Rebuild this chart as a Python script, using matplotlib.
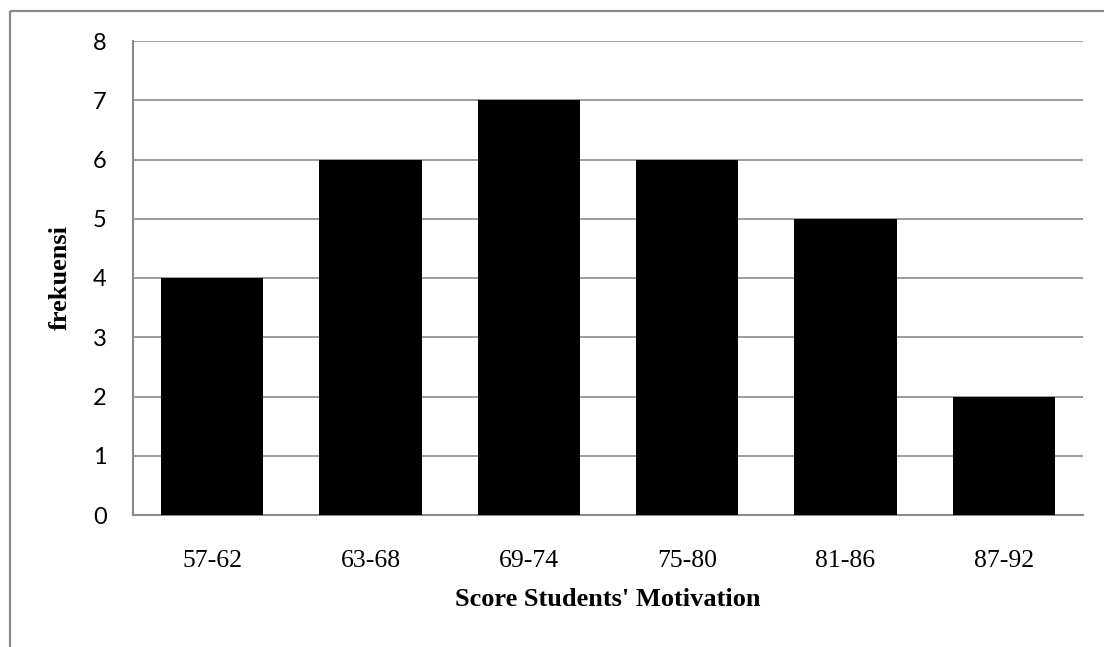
import matplotlib
matplotlib.use("Agg")
import matplotlib.pyplot as plt
from matplotlib.lines import Line2D

# Frequency distribution of motivation scores
categories = ["57-62", "63-68", "69-74", "75-80", "81-86", "87-92"]
frequencies = [4, 6, 7, 6, 5, 2]
y_ticks = [0, 1, 2, 3, 4, 5, 6, 7, 8]

W, H = 1104, 647
fig = plt.figure(figsize=(W / 100, H / 100), dpi=100)
fig.patch.set_facecolor("white")

grey = "#8a8a8a"

# outer frame (top and left edges)
fig.add_artist(Line2D([10 / W, 1.0], [1 - 11 / H, 1 - 11 / H], transform=fig.transFigure,
                      color=grey, lw=1.6, solid_capstyle="butt"))
fig.add_artist(Line2D([10 / W, 10 / W], [1 - 11 / H, 0.0], transform=fig.transFigure,
                      color=grey, lw=1.6, solid_capstyle="butt"))

left, right, top, bottom = 133, 1083, 41, 515
ax = fig.add_axes([left / W, 1 - bottom / H, (right - left) / W, (bottom - top) / H])

x = list(range(len(categories)))
ax.bar(x, frequencies, width=0.645, color="black", zorder=3)

ax.set_xlim(-0.5, len(categories) - 0.5)
ax.set_ylim(0, 8)
ax.set_yticks(y_ticks)
ax.set_yticklabels([str(t) for t in y_ticks], fontfamily="Lato", fontsize=17)
ax.set_xticks(x)
ax.set_xticklabels(categories, fontfamily="Liberation Serif", fontsize=18.5)

ax.tick_params(axis="y", length=0, pad=19)
ax.tick_params(axis="x", length=0, pad=25)

ax.yaxis.grid(True, color=grey, lw=1.2, zorder=0)
ax.set_axisbelow(True)

for side in ("top", "right"):
    ax.spines[side].set_visible(False)
for side in ("left", "bottom"):
    ax.spines[side].set_color(grey)
    ax.spines[side].set_linewidth(1.5)

ax.set_xlabel("Score Students' Motivation", fontfamily="Liberation Serif",
              fontweight="bold", fontsize=19)
ax.xaxis.set_label_coords(0.5, (bottom - 600) / (bottom - top))
ax.xaxis.label.set_va("center")
ax.set_ylabel("frekuensi", fontfamily="Liberation Serif", fontweight="bold", fontsize=19)
ax.yaxis.set_label_coords((60 - left) / (right - left), 0.5)
ax.yaxis.label.set_va("center")

fig.savefig("out.png", dpi=100, facecolor="white")
